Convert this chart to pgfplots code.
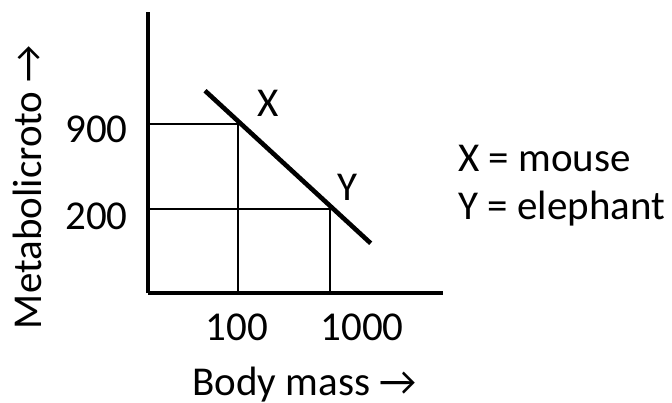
\documentclass[border=0pt]{standalone}
\usepackage{fontspec}
\setmainfont{Carlito}
\usepackage{pgfplots}
\pgfplotsset{compat=1.18}
\begin{document}
\begin{tikzpicture}
\fontsize{20.5bp}{24bp}\selectfont
\begin{axis}[
    scale only axis,
    width=147.5bp, height=140.5bp,
    xmin=0, xmax=295, ymin=0, ymax=281,
    axis x line*=bottom, axis y line*=left,
    axis line style={line width=2bp, -},
    xtick={89,214}, xticklabels={100,1000},
    ytick={150,63}, yticklabels={900,200},
    major tick length=0pt,
    xticklabel style={anchor=base, yshift=-23.5bp, inner sep=0pt},
    yticklabel style={anchor=base east, xshift=-10bp, inner sep=0pt},
    /pgf/number format/assume math mode=true,
    clip=false,
]
% grid lines to the two points
\addplot[black, line width=0.6bp] coordinates {(0,169) (90,169) (90,0)};
\addplot[black, line width=0.6bp] coordinates {(0,84) (182,84) (182,0)};
% the line
\addplot[black, line width=2.3bp] coordinates {(57,202.3) (222.7,49.7)};
\node[anchor=center] at (axis cs:120,190) {X};
\node[anchor=center] at (axis cs:199,106) {Y};
\node[anchor=base west, inner sep=0pt] at (axis cs:310,121) {X = mouse};
\node[anchor=base west, inner sep=0pt] at (axis cs:310,73) {Y = elephant};
\node[anchor=base, inner sep=0pt] at (axis cs:156.5,-102) {Body mass \char"2192};
\node[anchor=base, rotate=90, inner sep=0pt] at (axis cs:-106,106) {Metabolicroto \char"2192};
\coordinate (bl) at (axis cs:-148,-110);
\coordinate (tr) at (axis cs:524,293);
\end{axis}
\pgfresetboundingbox
\path[use as bounding box] (bl) rectangle (tr);
\end{tikzpicture}
\end{document}
